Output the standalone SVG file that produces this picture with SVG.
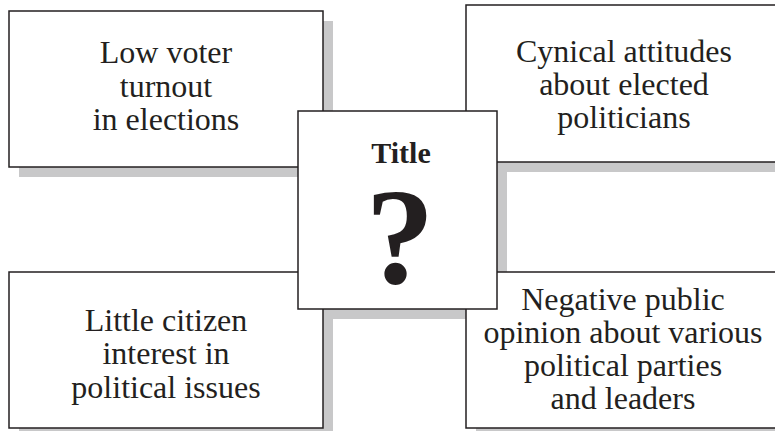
<svg xmlns="http://www.w3.org/2000/svg" width="775" height="431" viewBox="0 0 775 431">
  <style>
    .box { fill: #ffffff; stroke: #231f20; stroke-width: 1.5; }
    .shadow { fill: #c8c8c9; stroke: none; }
    .lbl { font-family: "Liberation Serif", "Times New Roman", serif; font-size: 32px; fill: #231f20; text-anchor: middle; }
    .ttl { font-family: "Liberation Serif", "Times New Roman", serif; font-weight: bold; fill: #231f20; text-anchor: middle; }
  </style>
  <rect width="775" height="431" fill="#ffffff"/>
  <g id="shadows">
    <rect class="shadow" x="19" y="21" width="314" height="156"/>
    <rect class="shadow" x="476" y="15" width="320" height="157"/>
    <rect class="shadow" x="19" y="282" width="314" height="156"/>
    <rect class="shadow" x="476" y="282" width="320" height="156"/>
    <rect class="shadow" x="308" y="121" width="199" height="198"/>
  </g>
  <g id="node-low-turnout">
    <rect class="box" x="9" y="11" width="314" height="156"/>
    <text class="lbl" x="166" y="63">Low voter</text>
    <text class="lbl" x="166" y="97">turnout</text>
    <text class="lbl" x="166" y="130">in elections</text>
  </g>
  <g id="node-cynical">
    <rect class="box" x="466" y="5" width="330" height="157"/>
    <text class="lbl" x="624" y="62">Cynical attitudes</text>
    <text class="lbl" x="624" y="95">about elected</text>
    <text class="lbl" x="624" y="128">politicians</text>
  </g>
  <g id="node-little-interest">
    <rect class="box" x="9" y="272" width="314" height="156"/>
    <text class="lbl" x="166" y="331">Little citizen</text>
    <text class="lbl" x="166" y="364">interest in</text>
    <text class="lbl" x="166" y="398">political issues</text>
  </g>
  <g id="node-negative-opinion">
    <rect class="box" x="466" y="272" width="330" height="156"/>
    <text class="lbl" x="623" y="310">Negative public</text>
    <text class="lbl" x="623" y="343">opinion about various</text>
    <text class="lbl" x="623" y="376">political parties</text>
    <text class="lbl" x="623" y="409">and leaders</text>
  </g>
  <g id="node-title">
    <rect class="box" x="298" y="111" width="199" height="198"/>
    <text class="ttl" x="401" y="163" font-size="30">Title</text>
    <text class="ttl" x="400" y="283" font-size="138">?</text>
  </g>
</svg>
